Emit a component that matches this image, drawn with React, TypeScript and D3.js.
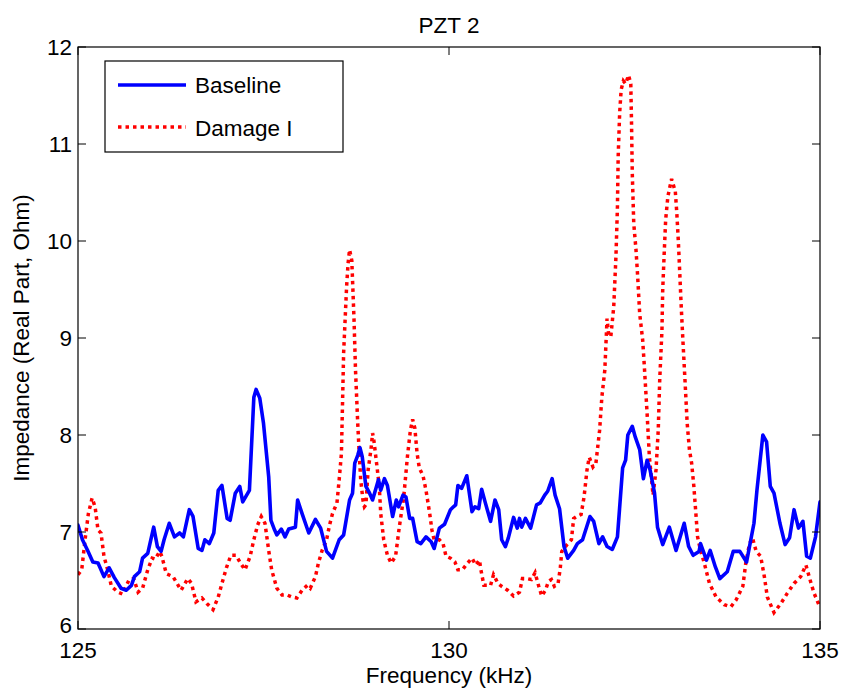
import React from "react";
import * as d3 from "d3";

const title = "PZT 2";
const xLabel = "Frequency (kHz)";
const yLabel = "Impedance (Real Part, Ohm)";
const xTicks = [125, 130, 135];
const yTicks = [6, 7, 8, 9, 10, 11, 12];
const seriesNames = ["Baseline", "Damage I"];

const baseFreq = [
  125.0, 125.06, 125.13, 125.2, 125.27, 125.35, 125.42, 125.49, 125.58, 125.65, 125.72, 125.76, 125.83, 125.87, 125.94,
  126.02, 126.07, 126.12, 126.16, 126.23, 126.3, 126.37, 126.42, 126.5, 126.55, 126.62, 126.67, 126.71, 126.77, 126.83,
  126.89, 126.94, 127.01, 127.05, 127.12, 127.18, 127.22, 127.31, 127.37, 127.4, 127.45, 127.5, 127.57, 127.6, 127.65,
  127.68, 127.74, 127.79, 127.84, 127.93, 127.96, 128.02, 128.11, 128.2, 128.27, 128.35, 128.43, 128.52, 128.58, 128.66,
  128.7, 128.73, 128.77, 128.8, 128.83, 128.88, 128.93, 128.97, 129.05, 129.08, 129.13, 129.17, 129.24, 129.29, 129.32,
  129.38, 129.42, 129.47, 129.51, 129.57, 129.62, 129.69, 129.76, 129.8, 129.87, 129.94, 130.02, 130.06, 130.09, 130.12,
  130.17, 130.24, 130.31, 130.35, 130.4, 130.44, 130.49, 130.56, 130.62, 130.67, 130.71, 130.76, 130.8, 130.87, 130.92,
  130.95, 130.98, 131.03, 131.1, 131.18, 131.23, 131.29, 131.33, 131.39, 131.43, 131.49, 131.55, 131.6, 131.68, 131.73,
  131.8, 131.9, 131.95, 132.02, 132.07, 132.13, 132.2, 132.27, 132.34, 132.38, 132.41, 132.47, 132.51, 132.57, 132.62,
  132.67, 132.71, 132.77, 132.81, 132.88, 132.97, 133.06, 133.17, 133.23, 133.29, 133.37, 133.39, 133.47, 133.52, 133.59,
  133.65, 133.75, 133.83, 133.92, 134.01, 134.11, 134.15, 134.23, 134.28, 134.33, 134.38, 134.46, 134.53, 134.59, 134.65,
  134.71, 134.77, 134.82, 134.87, 134.94, 135.0,
];
const baseVal = [
  7.07, 6.92, 6.81, 6.69, 6.68, 6.54, 6.63, 6.53, 6.42, 6.4, 6.45, 6.54, 6.59, 6.73, 6.78,
  7.05, 6.85, 6.8, 6.92, 7.09, 6.95, 6.99, 6.95, 7.23, 7.16, 6.83, 6.81, 6.92, 6.88, 6.99,
  7.43, 7.48, 7.14, 7.12, 7.4, 7.47, 7.31, 7.43, 8.39, 8.47, 8.38, 8.12, 7.57, 7.12, 7.02,
  6.97, 7.03, 6.95, 7.03, 7.05, 7.33, 7.19, 6.99, 7.13, 7.04, 6.8, 6.73, 6.92, 6.97, 7.33,
  7.4, 7.71, 7.79, 7.87, 7.78, 7.47, 7.4, 7.33, 7.54, 7.43, 7.55, 7.48, 7.16, 7.33, 7.26,
  7.38, 7.36, 7.14, 7.14, 6.9, 6.88, 6.95, 6.9, 6.83, 7.04, 7.08, 7.23, 7.26, 7.28, 7.48,
  7.45, 7.58, 7.21, 7.26, 7.24, 7.44, 7.3, 7.11, 7.33, 7.23, 6.92, 6.85, 6.94, 7.15, 7.04,
  7.14, 7.05, 7.14, 7.04, 7.28, 7.3, 7.38, 7.42, 7.55, 7.38, 7.24, 6.85, 6.73, 6.81, 6.88,
  6.92, 7.16, 7.11, 6.88, 6.95, 6.85, 6.82, 6.95, 7.66, 7.74, 8.0, 8.09, 7.98, 7.85, 7.55,
  7.74, 7.64, 7.4, 7.05, 6.87, 7.05, 6.81, 7.09, 6.85, 6.76, 6.8, 6.88, 6.71, 6.81, 6.64,
  6.52, 6.59, 6.8, 6.8, 6.69, 7.09, 7.43, 8.0, 7.93, 7.47, 7.4, 7.09, 6.87, 6.94, 7.23,
  7.04, 7.11, 6.75, 6.73, 6.95, 7.31,
];

const dmgFreq = [
  125.0, 125.05, 125.1, 125.14, 125.19, 125.23, 125.27, 125.31, 125.35, 125.4, 125.45, 125.54, 125.6, 125.69, 125.75,
  125.81, 125.87, 125.94, 126.0, 126.04, 126.1, 126.13, 126.19, 126.28, 126.39, 126.48, 126.53, 126.59, 126.67, 126.74,
  126.82, 126.89, 126.94, 127.0, 127.06, 127.13, 127.19, 127.25, 127.32, 127.37, 127.42, 127.47, 127.52, 127.57, 127.61,
  127.68, 127.75, 127.82, 127.88, 127.95, 128.02, 128.09, 128.13, 128.2, 128.24, 128.29, 128.35, 128.39, 128.43, 128.49,
  128.52, 128.55, 128.56, 128.58, 128.62, 128.64, 128.66, 128.69, 128.72, 128.74, 128.77, 128.79, 128.81, 128.84, 128.86,
  128.88, 128.91, 128.95, 128.97, 128.99, 129.03, 129.06, 129.08, 129.12, 129.17, 129.22, 129.28, 129.33, 129.39, 129.44,
  129.48, 129.51, 129.54, 129.57, 129.6, 129.65, 129.69, 129.74, 129.77, 129.8, 129.87, 129.92, 129.96, 130.02, 130.08,
  130.12, 130.18, 130.25, 130.31, 130.36, 130.41, 130.43, 130.47, 130.56, 130.6, 130.66, 130.71, 130.79, 130.87, 130.95,
  130.99, 131.05, 131.11, 131.16, 131.21, 131.25, 131.3, 131.34, 131.38, 131.42, 131.47, 131.5, 131.52, 131.59, 131.65,
  131.68, 131.72, 131.78, 131.82, 131.86, 131.89, 131.94, 131.98, 132.03, 132.06, 132.1, 132.13, 132.15, 132.18, 132.22,
  132.25, 132.27, 132.28, 132.3, 132.32, 132.35, 132.38, 132.42, 132.45, 132.46, 132.47, 132.49, 132.52, 132.54, 132.57,
  132.61, 132.63, 132.67, 132.7, 132.73, 132.75, 132.79, 132.82, 132.84, 132.87, 132.88, 132.9, 132.92, 132.95, 133.0,
  133.05, 133.07, 133.09, 133.11, 133.13, 133.15, 133.18, 133.21, 133.24, 133.27, 133.3, 133.33, 133.35, 133.39, 133.44,
  133.51, 133.6, 133.71, 133.8, 133.87, 133.96, 134.0, 134.05, 134.09, 134.14, 134.2, 134.25, 134.29, 134.38, 134.47,
  134.56, 134.65, 134.74, 134.81, 134.88, 134.92, 134.99, 135.0,
];
const dmgVal = [
  6.56, 6.61, 6.95, 7.19, 7.35, 7.26, 7.02, 6.99, 6.75, 6.61, 6.44, 6.38, 6.36, 6.51, 6.52,
  6.38, 6.42, 6.61, 6.73, 6.72, 6.8, 6.75, 6.57, 6.54, 6.4, 6.52, 6.47, 6.28, 6.32, 6.26,
  6.2, 6.33, 6.47, 6.63, 6.76, 6.76, 6.68, 6.61, 6.75, 6.92, 7.07, 7.16, 7.09, 6.81, 6.61,
  6.42, 6.35, 6.35, 6.33, 6.32, 6.4, 6.45, 6.42, 6.54, 6.68, 6.81, 6.92, 7.07, 7.19, 7.3,
  7.54, 7.81, 8.15, 8.85, 9.53, 9.77, 9.91, 9.8, 9.19, 8.67, 8.12, 7.81, 7.54, 7.33, 7.26,
  7.28, 7.64, 7.86, 8.02, 7.93, 7.67, 7.47, 7.19, 6.92, 6.76, 6.68, 6.75, 7.05, 7.36, 7.78,
  8.05, 8.16, 8.07, 7.81, 7.66, 7.58, 7.43, 7.19, 7.02, 6.92, 6.92, 6.88, 6.75, 6.73, 6.69,
  6.61, 6.61, 6.68, 6.73, 6.66, 6.71, 6.61, 6.45, 6.45, 6.56, 6.47, 6.44, 6.4, 6.34, 6.38,
  6.52, 6.52, 6.51, 6.58, 6.44, 6.34, 6.4, 6.49, 6.51, 6.44, 6.47, 6.63, 6.8, 6.87, 6.92,
  7.14, 7.16, 7.18, 7.36, 7.64, 7.77, 7.67, 7.71, 8.05, 8.39, 8.67, 9.2, 9.05, 9.01, 9.32,
  9.84, 10.35, 10.87, 11.32, 11.56, 11.65, 11.62, 11.71, 11.62, 11.21, 10.7, 10.18, 9.91, 9.67, 9.25,
  8.98, 8.74, 8.22, 7.78, 7.54, 7.38, 7.64, 8.05, 8.57, 9.08, 9.49, 9.87, 10.22, 10.46, 10.64,
  10.51, 10.29, 10.01, 9.67, 9.32, 9.01, 8.57, 8.12, 7.85, 7.71, 7.47, 7.16, 6.95, 6.81, 6.68,
  6.47, 6.33, 6.25, 6.23, 6.3, 6.44, 6.68, 6.88, 6.94, 6.8, 6.75, 6.54, 6.33, 6.17, 6.26,
  6.37, 6.47, 6.54, 6.66, 6.47, 6.37, 6.24, 6.24,
];

const W = 844;
const H = 694;
const M = { left: 78, right: 820, top: 47, bottom: 629 };
const FONT = "'Liberation Sans', Arial, Helvetica, sans-serif";
const FS = 22.5;

export default function App() {
  const x = d3.scaleLinear().domain([125, 135]).range([M.left, M.right]);
  const y = d3.scaleLinear().domain([6, 12]).range([M.bottom, M.top]);

  const base = baseFreq.map((f, i) => [f, baseVal[i]] as [number, number]);
  const dmg = dmgFreq.map((f, i) => [f, dmgVal[i]] as [number, number]);
  const line = d3
    .line<[number, number]>()
    .x((d) => x(d[0]))
    .y((d) => y(d[1]));

  const tickLen = 8;

  return (
    <svg
      width={W}
      height={H}
      viewBox={`0 0 ${W} ${H}`}
      style={{ position: "absolute", left: 0, top: 0, background: "#fff" }}
      fontFamily={FONT}
    >
      <rect x={0} y={0} width={W} height={H} fill="#fff" />
      <defs>
        <clipPath id="plotclip">
          <rect x={M.left} y={M.top} width={M.right - M.left} height={M.bottom - M.top} />
        </clipPath>
      </defs>

      <g clipPath="url(#plotclip)">
        <path
          d={line(dmg) || ""}
          fill="none"
          stroke="#ff0000"
          strokeWidth={3.5}
          strokeDasharray="3.5 4"
        />
        <path
          d={line(base) || ""}
          fill="none"
          stroke="#0000ff"
          strokeWidth={3.6}
          strokeLinejoin="round"
          strokeLinecap="round"
        />
      </g>

      {/* axes box */}
      <rect
        x={M.left}
        y={M.top}
        width={M.right - M.left}
        height={M.bottom - M.top}
        fill="none"
        stroke="#000"
        strokeWidth={1.2}
      />

      {/* x ticks */}
      {xTicks.map((t) => (
        <g key={"x" + t}>
          <line x1={x(t)} x2={x(t)} y1={M.bottom} y2={M.bottom - tickLen} stroke="#000" strokeWidth={1} />
          <line x1={x(t)} x2={x(t)} y1={M.top} y2={M.top + tickLen} stroke="#000" strokeWidth={1} />
          <text x={x(t)} y={M.bottom + 29} textAnchor="middle" fontSize={FS} fill="#000">
            {t}
          </text>
        </g>
      ))}

      {/* y ticks */}
      {yTicks.map((t) => (
        <g key={"y" + t}>
          <line x1={M.left} x2={M.left + tickLen} y1={y(t)} y2={y(t)} stroke="#000" strokeWidth={1} />
          <line x1={M.right} x2={M.right - tickLen} y1={y(t)} y2={y(t)} stroke="#000" strokeWidth={1} />
          <text x={M.left - 6} y={y(t) + (t === 6 ? 4 : 8)} textAnchor="end" fontSize={FS} fill="#000">
            {t}
          </text>
        </g>
      ))}

      {/* title */}
      <text x={(M.left + M.right) / 2} y={33} textAnchor="middle" fontSize={FS} fill="#000">
        {title}
      </text>

      {/* x label */}
      <text x={(M.left + M.right) / 2} y={683} textAnchor="middle" fontSize={FS} fill="#000">
        {xLabel}
      </text>

      {/* y label */}
      <text
        transform={`translate(29, ${(M.top + M.bottom) / 2}) rotate(-90)`}
        textAnchor="middle"
        fontSize={FS}
        fill="#000"
      >
        {yLabel}
      </text>

      {/* legend */}
      <g>
        <rect x={105} y={61} width={238} height={91} fill="#fff" stroke="#000" strokeWidth={1.2} />
        <line x1={118} x2={186} y1={85} y2={85} stroke="#0000ff" strokeWidth={3.6} />
        <text x={195} y={93} fontSize={FS} fill="#000">
          {seriesNames[0]}
        </text>
        <line x1={118} x2={186} y1={127} y2={127} stroke="#ff0000" strokeWidth={3.5} strokeDasharray="3.5 4" />
        <text x={195} y={136} fontSize={FS} fill="#000">
          {seriesNames[1]}
        </text>
      </g>
    </svg>
  );
}
